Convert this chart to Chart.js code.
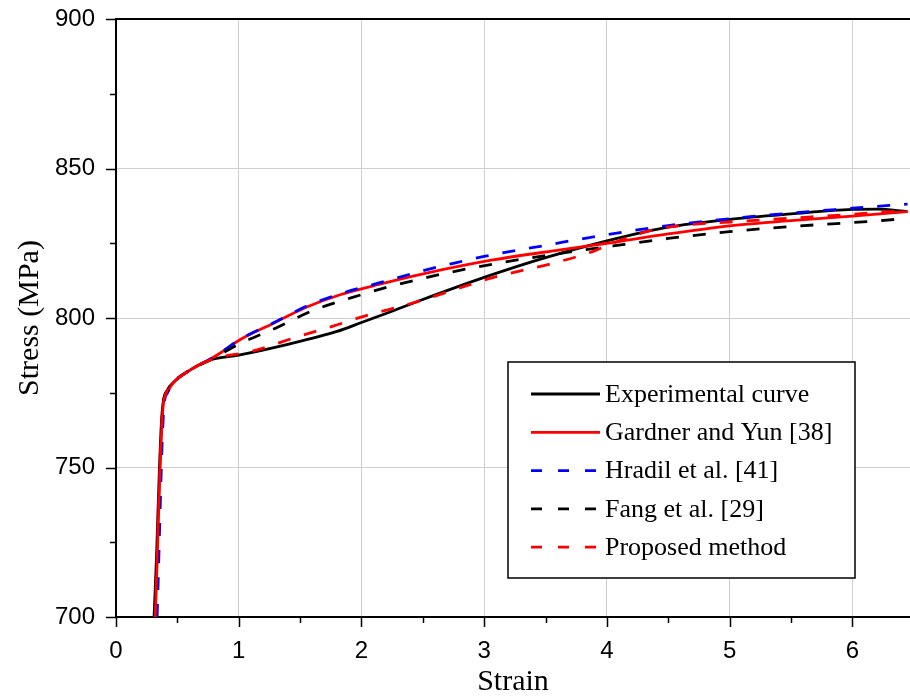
<!DOCTYPE html>
<html>
<head>
<meta charset="utf-8">
<script src="https://cdn.jsdelivr.net/npm/chart.js@4/dist/chart.umd.min.js"></script>
<style>
  body { margin: 0; background: #fff; }
</style>
</head>
<body>
<canvas id="stressChart" width="910" height="700"></canvas>
<script>
// dati (strain, stress in MPa)
var expStrain = [0.31, 0.33, 0.35, 0.37, 0.385, 0.42, 0.47, 0.6, 0.77, 1.0, 1.4, 1.8, 2.0, 2.2, 2.5, 3.0, 3.5, 4.0, 4.5, 5.0, 5.5, 6.0, 6.2, 6.45];
var expStress = [700, 720, 745, 765, 772, 776, 778.5, 782.5, 786, 787.6, 791.2, 795.5, 798.5, 801.5, 806.2, 813.6, 820.2, 825.8, 830.4, 833, 834.8, 836.3, 836.4, 835.6];

var gardnerStrain = [0.32, 0.385, 0.42, 0.47, 0.6, 0.77, 0.85, 1.0, 1.28, 1.55, 1.82, 2.15, 2.53, 3.07, 3.62, 4.0, 4.5, 5.0, 5.5, 6.0, 6.45];
var gardnerStress = [700, 771, 775.5, 778.5, 782.5, 786.3, 788.3, 792.5, 798.2, 803.6, 807.7, 811.3, 815, 819.4, 822.8, 825, 828.1, 830.8, 832.6, 834.1, 835.6];

var hradilStrain = [0.335, 0.39, 0.42, 0.47, 0.6, 0.77, 0.85, 1.0, 1.28, 1.55, 1.82, 2.15, 2.5, 2.75, 3.0, 3.5, 4.0, 4.5, 5.0, 5.5, 6.0, 6.45];
var hradilStress = [700, 770, 775, 778.5, 782.5, 786.3, 788.3, 792.6, 798.3, 803.9, 808, 811.8, 815.8, 818.3, 820.6, 824.3, 827.9, 830.9, 833.2, 835.1, 836.7, 838.1];

var fangStrain = [0.32, 0.385, 0.42, 0.47, 0.6, 0.77, 0.85, 1.0, 1.3, 1.6, 2.0, 2.22, 2.69, 3.15, 3.62, 4.05, 4.5, 5.0, 5.5, 6.14, 6.45];
var fangStress = [700, 771, 775.5, 778.5, 782.5, 786, 787.8, 791.2, 796.6, 802.4, 807.8, 810.4, 815, 818.6, 821.6, 824.1, 826.6, 828.9, 830.6, 832.3, 833.3];

var proposedStrain = [0.32, 0.37, 0.385, 0.40, 0.42, 0.47, 0.6, 0.77, 1.12, 1.5, 1.77, 1.99, 2.45, 3.07, 3.56, 3.89, 4.0, 4.2, 4.4, 4.7, 5.0, 5.5, 6.0, 6.45];
var proposedStress = [700, 762, 771, 774, 776, 778.5, 782.5, 786, 789, 794, 797.3, 800.2, 805.4, 813.5, 818.3, 822.3, 824.2, 827.3, 829.7, 831.3, 832.1, 833.4, 834.7, 836];

var seriesLabels = ["Experimental curve", "Gardner and Yun [38]", "Hradil et al. [41]", "Fang et al. [29]", "Proposed method"];
var xTickLabels = ["0", "1", "2", "3", "4", "5", "6"];
var yTickLabels = ["700", "750", "800", "850", "900"];

function toPoints(xs, ys) {
  var pts = [];
  for (var i = 0; i < xs.length; i++) {
    pts.push({ x: xs[i], y: ys[i] });
  }
  return pts;
}

var serifFont = "'Liberation Serif', 'Times New Roman', serif";
var sansFont = "'Liberation Sans', Arial, sans-serif";

function makeSet(label, xs, ys, color, dashed, order) {
  return {
    label: label,
    data: toPoints(xs, ys),
    borderColor: color,
    backgroundColor: color,
    borderWidth: 2.8,
    borderDash: dashed ? [13, 14] : [],
    showLine: true,
    pointRadius: 0,
    cubicInterpolationMode: 'monotone',
    order: order
  };
}

//plugin per tacche, bordo superiore e legenda dentro al grafico
var framePlugin = {
  id: 'frame',
  afterDraw: function (chart) {
    var ctx = chart.ctx;
    var area = chart.chartArea;
    var xs = chart.scales.x, ys = chart.scales.y;
    ctx.save();
    ctx.strokeStyle = '#000';
    ctx.lineWidth = 1.5;
    ctx.setLineDash([]);
    xs.ticks.forEach(function (t) {
      var px = Math.round(xs.getPixelForValue(t.value)) + 0.5;
      var len = Number.isInteger(t.value) ? 10 : 6;
      ctx.beginPath();
      ctx.moveTo(px, area.bottom);
      ctx.lineTo(px, area.bottom + len);
      ctx.stroke();
    });
    ys.ticks.forEach(function (t) {
      var py = Math.round(ys.getPixelForValue(t.value)) + 0.5;
      var len = t.value % 50 === 0 ? 10 : 6;
      ctx.beginPath();
      ctx.moveTo(area.left, py);
      ctx.lineTo(area.left - len, py);
      ctx.stroke();
    });
    // bordo in alto
    ctx.lineWidth = 2;
    ctx.beginPath();
    ctx.moveTo(area.left, area.top);
    ctx.lineTo(area.right, area.top);
    ctx.stroke();

    // legenda
    var bx = 508, by = 362, bw = 347, bh = 216;
    ctx.fillStyle = '#fff';
    ctx.fillRect(bx, by, bw, bh);
    ctx.lineWidth = 1.5;
    ctx.strokeRect(bx, by, bw, bh);
    ctx.font = '26px ' + serifFont;
    ctx.textBaseline = 'middle';
    chart.data.datasets.forEach(function (ds, i) {
      var y = 394 + i * 38.3;
      ctx.strokeStyle = ds.borderColor;
      ctx.lineWidth = 2.8;
      ctx.setLineDash(ds.borderDash.length ? [11, 16] : []);
      ctx.beginPath();
      ctx.moveTo(531, y);
      ctx.lineTo(600, y);
      ctx.stroke();
      ctx.setLineDash([]);
      ctx.fillStyle = '#000';
      ctx.fillText(ds.label, 605, y + 1);
    });
    ctx.restore();
  }
};

var chartCanvas = document.getElementById('stressChart').getContext('2d');
var stressChart = new Chart(chartCanvas, {
  type: 'scatter',
  data: {
    datasets: [
      makeSet(seriesLabels[0], expStrain, expStress, '#000000', false, 5),
      makeSet(seriesLabels[1], gardnerStrain, gardnerStress, '#ff0000', false, 4),
      makeSet(seriesLabels[2], hradilStrain, hradilStress, '#0000ff', true, 3),
      makeSet(seriesLabels[3], fangStrain, fangStress, '#000000', true, 2),
      makeSet(seriesLabels[4], proposedStrain, proposedStress, '#ff0000', true, 1)
    ]
  },
  options: {
    responsive: false,
    animation: false,
    layout: { padding: 0 },
    plugins: {
      legend: { display: false },
      tooltip: { enabled: false }
    },
    scales: {
      x: {
        type: 'linear',
        min: 0,
        max: 6.47,
        afterFit: function (scale) { scale.height = 83; },
        border: { color: '#000', width: 2 },
        grid: {
          drawTicks: false,
          lineWidth: 1,
          color: function (c) {
            var v = c.tick ? c.tick.value : 0;
            return (Number.isInteger(v) && v !== 0) ? '#cfcfcf' : 'rgba(0,0,0,0)';
          }
        },
        ticks: {
          stepSize: 0.5,
          autoSkip: false,
          includeBounds: false,
          maxRotation: 0,
          padding: 20,
          color: '#000',
          font: { family: sansFont, size: 24 },
          callback: function (v) {
            return Number.isInteger(v) ? xTickLabels[v] : '';
          }
        },
        title: {
          display: true,
          text: 'Strain',
          color: '#000',
          padding: 0,
          font: { family: serifFont, size: 30 }
        }
      },
      y: {
        type: 'linear',
        min: 700,
        max: 900,
        afterFit: function (scale) {
          scale.width = 116;
          scale.paddingTop = 19;
          scale.paddingBottom = 0;
        },
        border: { color: '#000', width: 2 },
        grid: {
          drawTicks: false,
          lineWidth: 1,
          color: function (c) {
            var v = c.tick ? c.tick.value : 0;
            return (v % 50 === 0 && v !== 700 && v !== 900) ? '#cfcfcf' : 'rgba(0,0,0,0)';
          }
        },
        ticks: {
          stepSize: 25,
          autoSkip: false,
          padding: 21,
          color: '#000',
          font: { family: sansFont, size: 24 },
          callback: function (v) {
            return v % 50 === 0 ? yTickLabels[(v - 700) / 50] : '';
          }
        },
        title: {
          display: true,
          text: 'Stress (MPa)',
          color: '#000',
          padding: { top: 12, bottom: 0 },
          font: { family: serifFont, size: 30 }
        }
      }
    }
  },
  plugins: [framePlugin]
});
</script>
</body>
</html>
